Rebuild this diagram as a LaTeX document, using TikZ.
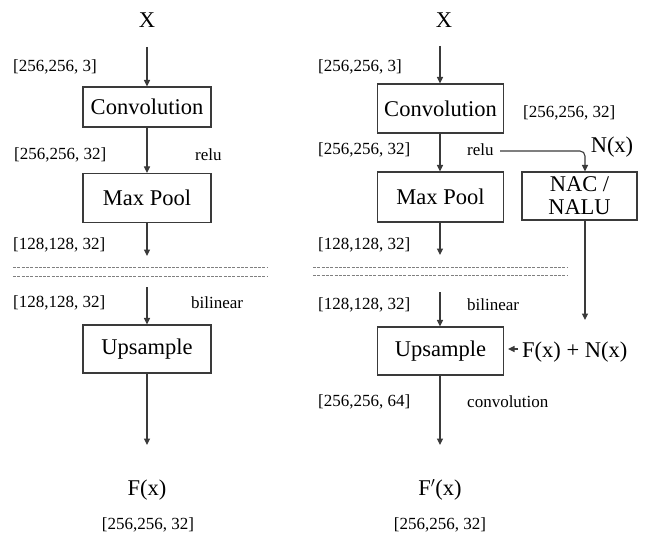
\documentclass[tikz,border=0pt]{standalone}
\usepackage{fontspec}
\setmainfont{Liberation Serif}
\newfontfamily\tms{Liberation Serif}
\usetikzlibrary{arrows.meta}
\definecolor{ln}{HTML}{3A3A3A}
\definecolor{dsh}{HTML}{808080}
\tikzset{
  big/.style={font=\tms\fontsize{22.5}{24}\selectfont, inner sep=0pt},
  small/.style={font=\tms\fontsize{17}{19}\selectfont, inner sep=0pt, anchor=west},
  boxnode/.style={draw=ln, line width=1.1pt, font=\tms\fontsize{22.5}{24}\selectfont, inner sep=0pt, align=center},
  arr/.style={draw=ln, line width=1.1pt, -{Triangle[length=6.5pt,width=6pt]}},
  sep/.style={draw=dsh, line width=1pt, dash pattern=on 3pt off 1.3pt},
}
\begin{document}
\begin{tikzpicture}[x=1pt,y=-1pt]
\useasboundingbox (0,0) rectangle (649,535);
% ---------------- left column ----------------
\node[big] (XL) at (147,20) {X};
\node[boxnode, minimum width=128, minimum height=40] (convL) at (147,107) {Convolution};
\node[boxnode, minimum width=128, minimum height=49] (poolL) at (147,198) {Max Pool};
\node[boxnode, minimum width=128, minimum height=48] (upL) at (147,349) {Upsample};
\node[big] (FL) at (147,490) {F(x)};
\node[small, anchor=center] (oL) at (148,525) {[256,256, 32]};
\node[small] (l1) at (13,67) {[256,256, 3]};
\node[small] (l2) at (14,155) {[256,256, 32]};
\node[small] (l3) at (195,155) {relu};
\node[small] (l4) at (13,245) {[128,128, 32]};
\node[small] (l5) at (13,303) {[128,128, 32]};
\node[small] (l6) at (191,303) {bilinear};
\coordinate (aL1) at (147,47);
\coordinate (aL3) at (147,256);
\coordinate (aL4) at (147,287);
\coordinate (aL5) at (147,445);
\draw[arr] (aL1) -- (convL.north);
\draw[arr] (convL.south) -- (poolL.north);
\draw[arr] (poolL.south) -- (aL3);
\draw[arr] (aL4) -- (upL.north);
\draw[arr] (upL.south) -- (aL5);
\coordinate (dL1a) at (13,267); \coordinate (dL1b) at (268,267);
\coordinate (dL2a) at (13,276); \coordinate (dL2b) at (268,276);
\draw[sep] (dL1a) -- (dL1b);
\draw[sep] (dL2a) -- (dL2b);
% ---------------- right column ----------------
\node[big] (XR) at (444,20) {X};
\node[boxnode, minimum width=126, minimum height=49] (convR) at (440.5,108.5) {Convolution};
\node[boxnode, minimum width=126, minimum height=50] (poolR) at (440.5,197) {Max Pool};
\node[boxnode, minimum width=126, minimum height=48] (upR) at (440.5,351) {Upsample};
\node[boxnode, minimum width=115, minimum height=48, font=\tms\fontsize{22.5}{23}\selectfont] (nac) at (579.5,196) {NAC /\\NALU};
\node[big] (FR) at (440,490) {F$'$(x)};
\node[small, anchor=center] (oR) at (440,525) {[256,256, 32]};
\node[small] (r1) at (318,67) {[256,256, 3]};
\node[small] (r2) at (523,113) {[256,256, 32]};
\node[small] (r3) at (318,150) {[256,256, 32]};
\node[small] (r4) at (467,150) {relu};
\node[big] (Nx) at (612,147) {N(x)};
\node[small] (r5) at (318,245) {[128,128, 32]};
\node[small] (r6) at (318,305) {[128,128, 32]};
\node[small] (r7) at (467,305) {bilinear};
\node[big, anchor=west] (FN) at (522,352) {F(x) + N(x)};
\node[small] (r8) at (318,402) {[256,256, 64]};
\node[small] (r9) at (467,402) {convolution};
\coordinate (aR1) at (440,46);
\coordinate (aR3) at (440,255);
\coordinate (aR4) at (440,292);
\coordinate (aR5) at (440,445);
\draw[arr] (aR1) -- (aR1 |- convR.north);
\draw[arr] (aR1 |- convR.south) -- (aR1 |- poolR.north);
\draw[arr] (aR1 |- poolR.south) -- (aR3);
\draw[arr] (aR4) -- (aR4 |- upR.north);
\draw[arr] (aR4 |- upR.south) -- (aR5);
\coordinate (reluS) at (500,151);
\coordinate (nacX) at (585,0);
\draw[arr, rounded corners=5pt] (reluS) -- (nacX |- reluS) -- (nacX |- nac.north);
\coordinate (nacIn) at (585,320);
\draw[arr] (nacX |- nac.south) -- (nacIn);
\coordinate (fnS) at (518,349);
\coordinate (fnE) at (508,349);
\draw[arr] (fnS) -- (fnE);
\coordinate (dR1a) at (313,267); \coordinate (dR1b) at (567,267);
\coordinate (dR2a) at (313,275); \coordinate (dR2b) at (567,275);
\draw[sep] (dR1a) -- (dR1b);
\draw[sep] (dR2a) -- (dR2b);
\end{tikzpicture}
\end{document}
